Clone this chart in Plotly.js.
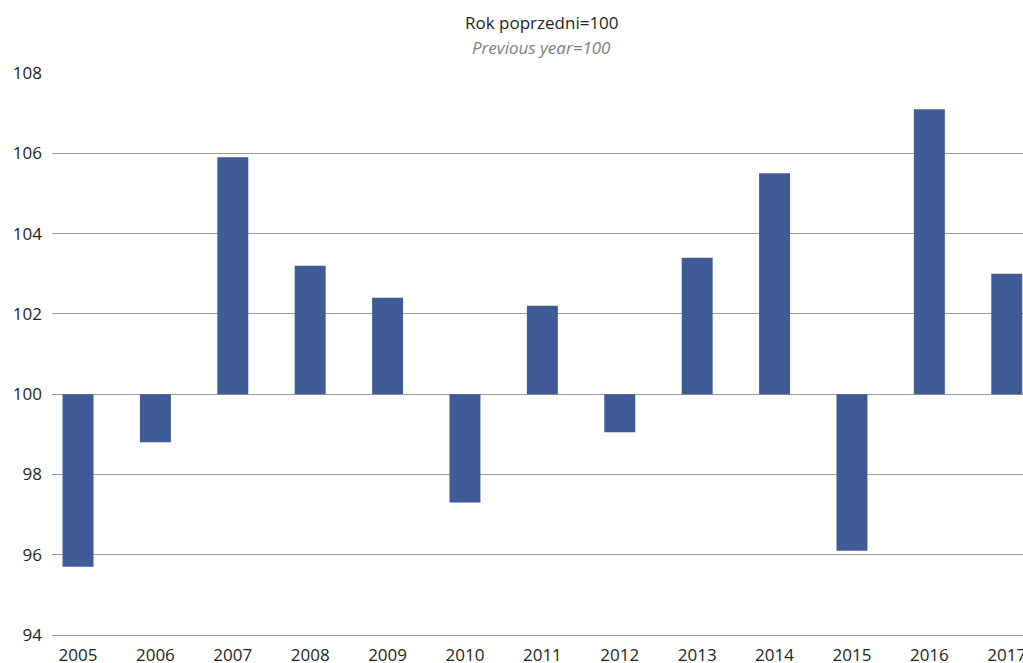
<!DOCTYPE html>
<html>
<head>
<meta charset="utf-8">
<script src="https://cdn.plot.ly/plotly-3.0.1.min.js"></script>
<style>html,body{margin:0;padding:0;background:#fff;}#chart{width:1023px;height:663px;}</style>
</head>
<body>
<div id="chart"></div>
<script>
const years = ["2005","2006","2007","2008","2009","2010","2011","2012","2013","2014","2015","2016","2017"];
const values = [95.7, 98.8, 105.9, 103.2, 102.4, 97.3, 102.2, 99.05, 103.4, 105.5, 96.1, 107.1, 103.0];
const baseValue = 100;
const yTicks = [94, 96, 98, 100, 102, 104, 106, 108];

const trace = {
  type: "bar",
  x: years,
  y: values.map(v => v - baseValue),
  base: baseValue,
  marker: {color: "#3F5B96"},
  hoverinfo: "skip"
};

const layout = {
  width: 1023, height: 663,
  margin: {l: 52, r: 0, t: 73, b: 28},
  paper_bgcolor: "#fff", plot_bgcolor: "#fff",
  showlegend: false,
  bargap: 0.6,
  font: {family: "Open Sans, sans-serif", color: "#231f20", size: 17},
  xaxis: {
    type: "category",
    range: [-0.336, 12.21],
    showgrid: false, zeroline: false,
    showline: true, linecolor: "#9a9a9a", linewidth: 1,
    ticks: "", ticklabelstandoff: 5,
    tickfont: {size: 17, color: "#231f20"}
  },
  yaxis: {
    range: [94, 108],
    tickvals: yTicks,
    ticktext: yTicks.map(String),
    showgrid: true, gridcolor: "#9a9a9a", gridwidth: 1,
    zeroline: false, showline: false,
    ticks: "", ticklabelstandoff: 9,
    tickfont: {size: 17, color: "#231f20"}
  },
  annotations: [
    {text: "Rok poprzedni=100", xref: "paper", yref: "paper", x: 0.5044, y: 1, yshift: 51, xanchor: "center", yanchor: "middle", showarrow: false, font: {size: 17, color: "#231f20"}},
    {text: "<i>Previous year=100</i>", xref: "paper", yref: "paper", x: 0.5044, y: 1, yshift: 26, xanchor: "center", yanchor: "middle", showarrow: false, font: {size: 17, color: "#808080"}}
  ]
};

Plotly.newPlot("chart", [trace], layout, {displayModeBar: false, staticPlot: true});
</script>
</body>
</html>
